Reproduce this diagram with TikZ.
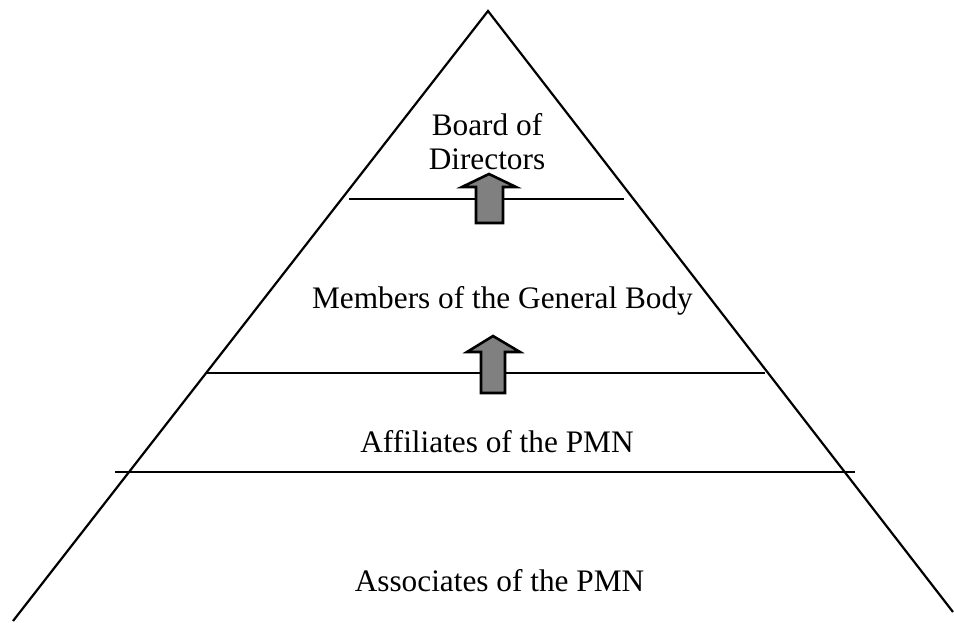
\documentclass[tikz,border=0pt]{standalone}
\usepackage{fontspec}
\setmainfont{Liberation Serif}
\begin{document}
\begin{tikzpicture}[x=1pt,y=-1pt,
  edge/.style={line width=2.2pt, line join=miter},
  lvl/.style={line width=2.2pt},
  uparrow/.style={draw=black, line width=2.6pt, fill={rgb,255:red,128;green,128;blue,128}, line join=miter},
  lbl/.style={anchor=base, inner sep=0pt, font=\fontsize{31.3}{36}\selectfont, align=center}]
\useasboundingbox (0,0) rectangle (954,622);
% triangle
\coordinate (apex) at (488,11);
\coordinate (bl) at (13,621);
\coordinate (br) at (953,612);
\draw[edge] (bl) -- (apex) -- (br);
% level lines
\coordinate (l1a) at (349,199); \coordinate (l1b) at (624,199);
\coordinate (l2a) at (206,373); \coordinate (l2b) at (765,373);
\coordinate (l3a) at (115,472); \coordinate (l3b) at (855,472);
\draw[lvl] (l1a) -- (l1b);
\draw[lvl] (l2a) -- (l2b);
\draw[lvl] (l3a) -- (l3b);
% arrows
\draw[uparrow] (489,174) -- (516,187) -- (503,187) -- (503,223) -- (476,223) -- (476,187) -- (462,187) -- cycle;
\draw[uparrow] (493,336) -- (520,352) -- (505,352) -- (505,393) -- (481,393) -- (481,352) -- (467,352) -- cycle;
% labels
\node[lbl] (board) at (487,135) {Board of};
\node[lbl] (dir) at (487,169.5) {Directors};
\node[lbl] (members) at (502.5,308) {Members of the General Body};
\node[lbl] (affil) at (497,452) {Affiliates of the PMN};
\node[lbl] (assoc) at (499.5,591) {Associates of the PMN};
\end{tikzpicture}
\end{document}
